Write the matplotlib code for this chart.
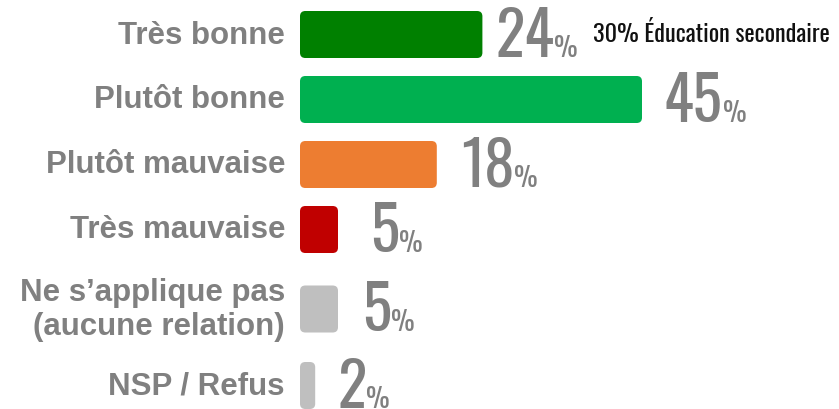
import matplotlib.pyplot as plt
from matplotlib.patches import FancyBboxPatch

categories = ['Très bonne', 'Plutôt bonne', 'Plutôt mauvaise', 'Très mauvaise',
              'Ne s’applique pas\n(aucune relation)', 'NSP / Refus']
values = [24, 45, 18, 5, 5, 2]
colors = ['#008000', '#00B050', '#ED7D31', '#C00000', '#BFBFBF', '#BFBFBF']
note = '30% Éducation secondaire'

# layout in pixels (figure is 839x410 at dpi 100)
px_per_pct = 7.6
x0_px = 300
step = 65
extra = [0, 0, 0, 0, 14.5, 26]
bar_h = 47
num_gap = [13, 22, 24, 32, 24, 22]

fig = plt.figure(figsize=(8.39, 4.10), dpi=100)
ax = fig.add_axes([0, 0, 1, 1])
ax.set_xlim(-x0_px / px_per_pct, (839 - x0_px) / px_per_pct)
ax.set_ylim(410, 0)
ax.axis('off')

centers = [35.5 + step * i + extra[i] for i in range(len(values))]

for i, (cat, v, c) in enumerate(zip(categories, values, colors)):
    y = centers[i]
    bar = FancyBboxPatch((0, y - bar_h / 2), v, bar_h,
                         boxstyle='round,pad=0,rounding_size=0.7',
                         mutation_aspect=px_per_pct, fc=c, ec='none')
    ax.add_patch(bar)
    ax.text(-15 / px_per_pct, y, cat, ha='right', va='center',
            fontsize=22.5, fontweight='bold', color='#808080',
            family='Liberation Sans', linespacing=1.2)
    base = y + bar_h / 2 - 2
    num = ax.text(v + num_gap[i] / px_per_pct, base, str(v), ha='left', va='baseline',
                  fontsize=44, color='#808080', family='Oswald', fontweight='medium')
    pct = ax.annotate('%', xy=(1, base), xycoords=(num, 'data'),
                      xytext=(0, 0), textcoords='offset points',
                      ha='left', va='baseline', fontsize=19, color='#808080',
                      family='Oswald', fontweight='medium')
    if i == 0:
        ax.annotate(note, xy=(1, base - 15), xycoords=(pct, 'data'),
                    xytext=(11, 0), textcoords='offset points',
                    ha='left', va='baseline', fontsize=17.5, color='#111111',
                    family='Oswald', fontweight='light')

fig.savefig('out.png', dpi=100)
